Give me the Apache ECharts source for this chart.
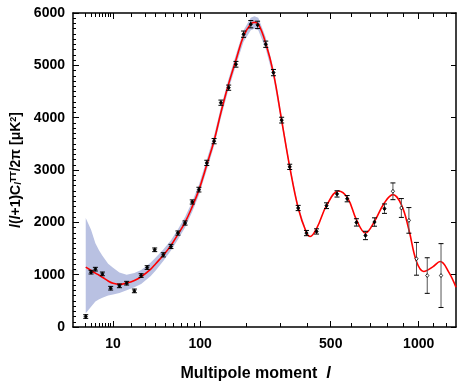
<!DOCTYPE html>
<html>
<head>
<meta charset="utf-8">
<script src="https://cdn.jsdelivr.net/npm/echarts@6/dist/echarts.min.js"></script>
<style>
  html, body { margin: 0; padding: 0; background: #fff; }
  #chart { width: 457px; height: 391px; }
</style>
</head>
<body>
<div id="chart"></div>
<script>
// binned band powers (multipole, value, error)
const dataL = [2, 3, 4, 6, 9, 13, 17, 22, 27, 32, 39, 48, 57, 66, 76, 87, 98, 112, 126, 140, 157, 174, 193, 212, 231, 255, 279, 306, 334, 365, 397, 438, 481, 529, 578, 625, 673, 723, 781, 832, 885, 934, 985, 1060, 1161];
const dataD = [200, 1048, 1105, 1015, 741, 786, 837, 690, 983, 1136, 1475, 1379, 1539, 1795, 1987, 2389, 2625, 3136, 3551, 4286, 4573, 5020, 5595, 5786, 5773, 5403, 4861, 3953, 3060, 2274, 1795, 1826, 2318, 2543, 2452, 1999, 1749, 2006, 2261, 2593, 2274, 2037, 1303, 983, 983];
const dataErr = [35, 35, 35, 35, 35, 35, 35, 35, 35, 35, 35, 40, 40, 40, 40, 40, 45, 50, 50, 50, 50, 55, 60, 70, 70, 60, 60, 55, 50, 50, 50, 50, 55, 60, 60, 70, 80, 80, 90, 160, 180, 245, 313, 340, 610];

// best fit model curve
const modelL = [2, 3, 4, 5, 6, 8, 10, 13, 17, 22, 27, 35, 40, 48, 57, 66, 76, 87, 98, 112, 126, 140, 156, 174, 193, 212, 222, 233, 255, 279, 306, 334, 365, 397, 412, 440, 481, 536, 580, 625, 673, 723, 780, 832, 885, 934, 985, 1035, 1100, 1155, 1220, 1277];
const modelD = [1144, 1080, 1030, 990, 950, 880, 835, 815, 840, 890, 960, 1100, 1210, 1370, 1560, 1770, 2000, 2300, 2620, 3100, 3560, 4100, 4620, 5100, 5560, 5790, 5820, 5790, 5420, 4850, 3950, 3060, 2274, 1800, 1730, 1900, 2318, 2600, 2466, 2050, 1795, 2018, 2370, 2529, 2338, 1859, 1250, 1060, 1150, 1251, 1050, 760];

// cosmic variance band
const bandL = [2, 3, 4, 5, 6, 8, 10, 13, 17, 22, 27, 35, 40, 48, 57, 66, 76, 87, 98, 112, 126, 140, 156, 174, 193, 212, 222, 233, 255, 279, 306, 334, 365, 397];
const bandLo = [262, 389, 485, 530, 560, 600, 620, 650, 700, 760, 820, 970, 1080, 1260, 1460, 1670, 1900, 2200, 2520, 3000, 3460, 4000, 4520, 5000, 5450, 5670, 5700, 5670, 5310, 4760, 3870, 3000, 2230, 1775];
const bandHi = [2083, 1858, 1600, 1460, 1360, 1210, 1130, 1040, 1000, 1030, 1090, 1230, 1330, 1480, 1660, 1870, 2100, 2400, 2720, 3200, 3660, 4200, 4720, 5200, 5670, 5910, 5940, 5910, 5530, 4940, 4030, 3120, 2320, 1825];

const labelTicks = [10, 100, 500, 1000];
const minorTicks = [2, 3, 4, 5, 6, 7, 8, 9, 20, 30, 40, 50, 60, 70, 80, 90, 200, 300, 400, 600, 700, 800, 900, 1100, 1200];

// horizontal axis is linear in l^0.4
const P = 0.4;
const toX = l => Math.pow(l, P);
const fromX = x => Math.pow(x, 1 / P);
const xMin = toX(0.51), xMax = toX(1277);

const FONT = "'Liberation Sans', Arial, sans-serif";
const tickFont = { fontFamily: FONT, fontWeight: 'bold', fontSize: 14, color: '#000' };
const axisLine = { show: true, lineStyle: { color: '#000', width: 1.5 } };

const chart = echarts.init(document.getElementById('chart'));

const xBase = {
  type: 'value', min: xMin, max: xMax,
  splitLine: { show: false }
};

chart.setOption({
  animation: false,
  backgroundColor: '#fff',
  grid: { left: 73, right: 1, top: 13, bottom: 64, containLabel: false, outerBoundsMode: 'none' },
  xAxis: [
    Object.assign({}, xBase, {
      position: 'bottom',
      axisLine: axisLine,
      axisTick: { show: true, inside: true, length: 4, customValues: minorTicks.map(toX), lineStyle: { color: '#000' } },
      axisLabel: Object.assign({ customValues: labelTicks.map(toX), margin: 10, formatter: v => String(Math.round(fromX(v))) }, tickFont),
      name: 'Multipole moment  {i|l}',
      nameLocation: 'middle',
      nameGap: 39,
      nameTextStyle: {
        fontFamily: FONT, fontWeight: 'bold', fontSize: 16, color: '#000', padding: [0, 18, 0, 0],
        rich: { i: { fontFamily: FONT, fontWeight: 'bold', fontStyle: 'italic', fontSize: 16, color: '#000' } }
      }
    }),
    Object.assign({}, xBase, {
      position: 'bottom',
      axisLine: { show: false },
      axisTick: { show: true, inside: true, length: 6, customValues: labelTicks.map(toX), lineStyle: { color: '#000' } },
      axisLabel: { show: false }
    }),
    Object.assign({}, xBase, {
      position: 'top',
      axisLine: axisLine,
      axisTick: { show: true, inside: true, length: 4, customValues: minorTicks.map(toX), lineStyle: { color: '#000' } },
      axisLabel: { show: false }
    }),
    Object.assign({}, xBase, {
      position: 'top',
      axisLine: { show: false },
      axisTick: { show: true, inside: true, length: 6, customValues: labelTicks.map(toX), lineStyle: { color: '#000' } },
      axisLabel: { show: false }
    })
  ],
  yAxis: [
    {
      type: 'value', position: 'left', min: 0, max: 6000, interval: 1000,
      axisLine: axisLine,
      axisTick: { show: true, inside: true, length: 6, lineStyle: { color: '#000' } },
      minorTick: { show: true, splitNumber: 10, length: 3, lineStyle: { color: '#000' } },
      axisLabel: Object.assign({ margin: 8, formatter: v => String(v) }, tickFont),
      splitLine: { show: false },
      name: '{i|l}({i|l}+1)C{sub|l}{sup|TT}/2π [μK{sup|2}]',
      nameLocation: 'middle',
      nameRotate: 90,
      nameGap: 38,
      nameTextStyle: {
        fontFamily: FONT, fontWeight: 'bold', fontSize: 14, color: '#000',
        rich: {
          i: { fontFamily: FONT, fontWeight: 'bold', fontStyle: 'italic', fontSize: 14, color: '#000' },
          sub: { fontFamily: FONT, fontWeight: 'bold', fontStyle: 'italic', fontSize: 9, color: '#000', verticalAlign: 'bottom', padding: [4, 0, 0, 0] },
          sup: { fontFamily: FONT, fontWeight: 'bold', fontSize: 9, color: '#000', verticalAlign: 'top', padding: [0, 0, 4, 0] }
        }
      }
    },
    {
      type: 'value', position: 'right', min: 0, max: 6000, interval: 1000,
      axisLine: axisLine,
      axisTick: { show: true, inside: true, length: 5, lineStyle: { color: '#000' } },
      axisLabel: { show: false },
      splitLine: { show: false }
    }
  ],
  series: [
    {
      // variance band as a polygon
      type: 'custom',
      xAxisIndex: 0, yAxisIndex: 0,
      silent: true,
      z: 1,
      data: [[toX(bandL[0]), bandLo[0]]],
      renderItem: (params, api) => {
        const pts = [];
        bandL.forEach((l, i) => pts.push(api.coord([toX(l), bandHi[i]])));
        for (let i = bandL.length - 1; i >= 0; i--) pts.push(api.coord([toX(bandL[i]), bandLo[i]]));
        return { type: 'polygon', shape: { points: pts }, style: { fill: '#b9c1e2' } };
      }
    },
    {
      type: 'line',
      xAxisIndex: 0, yAxisIndex: 0,
      data: modelL.map((l, i) => [toX(l), modelD[i]]),
      smooth: 0.4,
      showSymbol: false,
      silent: true,
      z: 3,
      lineStyle: { color: '#ff0000', width: 1.6 }
    },
    {
      type: 'custom',
      xAxisIndex: 0, yAxisIndex: 0,
      silent: true,
      z: 4,
      data: dataL.map((l, i) => [toX(l), dataD[i], dataErr[i]]),
      renderItem: (params, api) => {
        const x = api.value(0), y = api.value(1), e = api.value(2);
        const p = api.coord([x, y]);
        const t = api.coord([x, y + e])[1];
        const b = api.coord([x, y - e])[1];
        const w = 2.5;
        const fill = e < 150 ? '#000' : '#fff';
        return {
          type: 'group',
          children: [
            { type: 'line', shape: { x1: p[0], y1: t, x2: p[0], y2: b }, style: { stroke: '#555', lineWidth: 1 } },
            { type: 'line', shape: { x1: p[0] - w, y1: t, x2: p[0] + w, y2: t }, style: { stroke: '#000', lineWidth: 1 } },
            { type: 'line', shape: { x1: p[0] - w, y1: b, x2: p[0] + w, y2: b }, style: { stroke: '#000', lineWidth: 1 } },
            { type: 'polygon', shape: { points: [[p[0], p[1] - 2], [p[0] + 1.6, p[1]], [p[0], p[1] + 2], [p[0] - 1.6, p[1]]] }, style: { fill: fill, stroke: '#000', lineWidth: 0.8 } }
          ]
        };
      }
    }
  ]
});
</script>
</body>
</html>
